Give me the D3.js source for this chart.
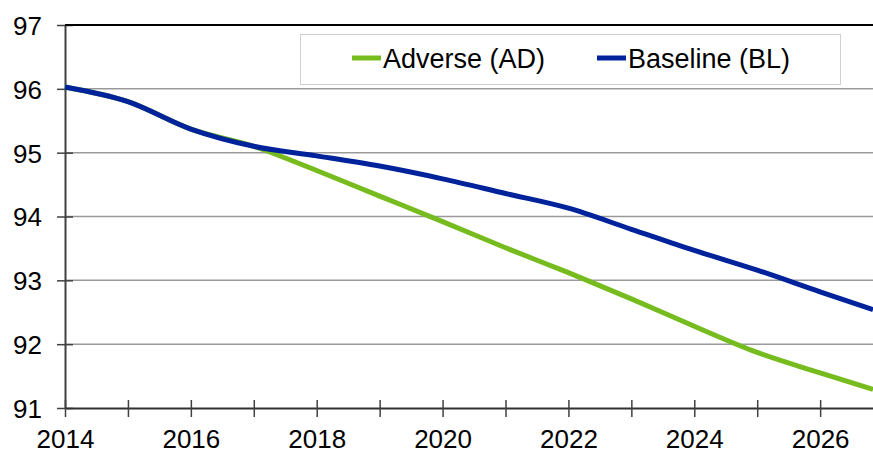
<!DOCTYPE html>
<html>
<head>
    <style>
      body { margin: 0; background: #fff; }
      text { font-family: "Liberation Sans", Arial, sans-serif; fill: #000; }
    </style>
    <script src="https://d3js.org/d3.v7.min.js"></script>
</head>
<body>
    <svg width="873" height="454" id="chart"></svg>
    <script>
      // values (index, 2014..)
      var years = [2014, 2015, 2016, 2017, 2018, 2019, 2020, 2021, 2022, 2023, 2024, 2025, 2026, 2026.84];
      var baseline = [96.03, 95.80, 95.37, 95.10, 94.95, 94.79, 94.59, 94.36, 94.13, 93.80, 93.47, 93.16, 92.82, 92.54];
      var adverse  = [96.03, 95.80, 95.37, 95.10, 94.72, 94.32, 93.92, 93.51, 93.12, 92.71, 92.28, 91.87, 91.55, 91.29];
      var yTicks = [91, 92, 93, 94, 95, 96, 97];
      var xTicks = [2014, 2016, 2018, 2020, 2022, 2024, 2026];
      var xMinor = d3.range(2014, 2027);
      var seriesNames = ["Adverse (AD)", "Baseline (BL)"];
      var seriesColors = ["#77bc1f", "#00239c"];

      var mLeft = 65, mRight = 873, mTop = 25, mBottom = 408;
      const svg = d3.select("#chart");

      var x = d3.scaleLinear().domain([2014, 2026.84]).range([mLeft, mRight]);
      var y = d3.scaleLinear().domain([91, 97]).range([mBottom, mTop]);

      //gridlines
      svg.append("g")
        .selectAll("line")
        .data(yTicks.slice(1, -1))
        .enter()
        .append("line")
        .attr("x1", mLeft).attr("x2", mRight)
        .attr("y1", d => y(d)).attr("y2", d => y(d))
        .attr("stroke", "#9a9a9a")
        .attr("stroke-width", 1.5);

      //y axis
      var yAxis = svg.append("g")
        .attr("transform", "translate(" + mLeft + ",0)")
        .call(d3.axisLeft(y).tickValues(yTicks).tickFormat(d3.format("d")).tickSize(8).tickSizeOuter(0));
      yAxis.select(".domain").attr("stroke", "#404040").attr("stroke-width", 2);
      yAxis.selectAll(".tick line").attr("stroke", "#404040").attr("stroke-width", 1.5).attr("x2", -8).attr("x1", 8);
      yAxis.selectAll(".tick text")
        .attr("font-size", 26)
        .attr("font-family", "Liberation Sans, Arial, sans-serif")
        .attr("fill", "#000")
        .attr("x", -23)
        .attr("dy", "0.36em");

      //x axis, a tick every year, a label every other
      var xAxis = svg.append("g")
        .attr("transform", "translate(0," + mBottom + ")")
        .call(d3.axisBottom(x).tickValues(xMinor).tickSize(9).tickFormat(d => d).tickSizeOuter(0));
      xAxis.select(".domain").attr("stroke", "#303030").attr("stroke-width", 2);
      xAxis.selectAll(".tick line").attr("stroke", "#404040").attr("stroke-width", 1.5).attr("y1", -8);
      xAxis.selectAll(".tick text").filter(d => xTicks.indexOf(d) < 0).remove();
      xAxis.selectAll(".tick text")
        .attr("font-size", 26)
        .attr("font-family", "Liberation Sans, Arial, sans-serif")
        .attr("fill", "#000")
        .attr("y", 40)
        .attr("dy", 0);

      //top border
      svg.append("line")
        .attr("x1", mLeft).attr("x2", mRight)
        .attr("y1", mTop).attr("y2", mTop)
        .attr("stroke", "#000")
        .attr("stroke-width", 2);

      //lines
      var line = d3.line()
        .x((d, i) => x(years[i]))
        .y(d => y(d))
        .curve(d3.curveMonotoneX);

      [adverse, baseline].forEach(function(vals, i) {
        svg.append("path")
          .attr("d", line(vals))
          .attr("fill", "none")
          .attr("stroke", seriesColors[i])
          .attr("stroke-width", 5)
          .attr("stroke-linejoin", "round");
      });

      //legend
      var legend = svg.append("g");
      legend.append("rect")
        .attr("x", 300.5).attr("y", 34.5)
        .attr("width", 540).attr("height", 50)
        .attr("fill", "#fff")
        .attr("stroke", "#d0d0d0")
        .attr("stroke-width", 1);
      var legendX = [352, 597];
      seriesNames.forEach(function(name, i) {
        legend.append("line")
          .attr("x1", legendX[i]).attr("x2", legendX[i] + 29)
          .attr("y1", 58).attr("y2", 58)
          .attr("stroke", seriesColors[i])
          .attr("stroke-width", 5);
        legend.append("text")
          .text(name)
          .attr("x", legendX[i] + 31)
          .attr("y", 58)
          .attr("dy", "0.36em")
          .attr("font-size", 27);
      });
    </script>
</body>
</html>
